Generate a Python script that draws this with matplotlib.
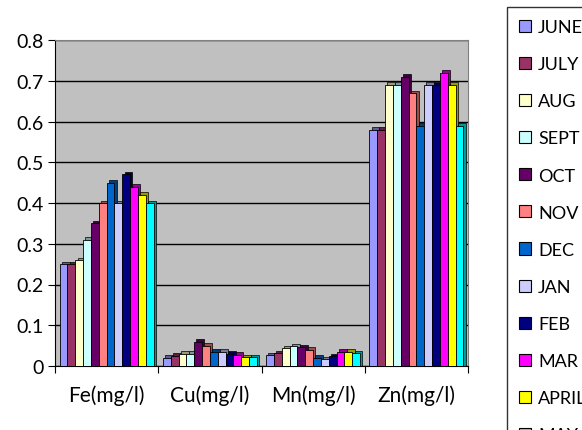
import numpy as np
import matplotlib.pyplot as plt
from matplotlib.patches import Patch

# Elementos medidos por mes
elementos = ["Fe(mg/l)", "Cu(mg/l)", "Mn(mg/l)", "Zn(mg/l)"]
meses = ["JUNE", "JULY", "AUG", "SEPT", "OCT", "NOV", "DEC", "JAN", "FEB", "MAR", "APRIL", "MAY"]
colores = ["#9999FF", "#993366", "#FFFFCC", "#CCFFFF", "#660066", "#FF8080",
           "#0066CC", "#CCCCFF", "#000080", "#FF00FF", "#FFFF00", "#00FFFF"]

fe = [0.25, 0.25, 0.26, 0.31, 0.35, 0.40, 0.45, 0.40, 0.47, 0.44, 0.42, 0.40]
cu = [0.02, 0.025, 0.03, 0.03, 0.06, 0.05, 0.035, 0.035, 0.03, 0.028, 0.022, 0.022]
mn = [0.027, 0.032, 0.043, 0.048, 0.046, 0.04, 0.02, 0.017, 0.024, 0.035, 0.035, 0.032]
zn = [0.58, 0.58, 0.69, 0.69, 0.71, 0.67, 0.59, 0.69, 0.69, 0.72, 0.69, 0.59]

valores = np.array([fe, cu, mn, zn])
yticks = [0, 0.1, 0.2, 0.3, 0.4, 0.5, 0.6, 0.7, 0.8]


def oscurecer(c, f=0.6):
    r, g, b = plt.matplotlib.colors.to_rgb(c)
    return (r * f, g * f, b * f)


plt.rcParams['font.family'] = ['Lato', 'DejaVu Sans']

fig = plt.figure(figsize=(5.82, 4.31), dpi=100)
ax = fig.add_axes([55 / 582, 1 - 367 / 431, 413 / 582, 326 / 431])
ax.set_facecolor("#C0C0C0")

x = np.arange(len(elementos))
n = len(meses)
ancho_grupo = 0.91
w = ancho_grupo / n
dx = 0.022   # profundidad del efecto 3D
dy = 0.006

for i, mes in enumerate(meses):
    pos = x - ancho_grupo / 2 + w * i + w / 2
    # cara lateral/superior mas oscura
    ax.bar(pos + dx, valores[:, i] + dy, width=w, color=oscurecer(colores[i]),
           edgecolor="black", linewidth=0.5, zorder=2)
    ax.bar(pos, valores[:, i], width=w, color=colores[i],
           edgecolor="black", linewidth=0.6, zorder=3)

ax.set_xlim(-0.5, len(elementos) - 0.5)
ax.set_ylim(0, 0.8)
ax.set_yticks(yticks)
ax.set_yticklabels(["0" if v == 0 else f"{v:.1f}" for v in yticks], fontsize=14)
ax.yaxis.grid(True, color="black", linewidth=1)
ax.set_axisbelow(True)

# marcas del eje x entre categorias
ax.set_xticks(np.arange(len(elementos) + 1) - 0.5)
ax.set_xticklabels([])
ax.set_xticks(x, minor=True)
ax.set_xticklabels(elementos, minor=True, fontsize=15)
ax.tick_params(axis="x", which="minor", length=0, pad=13)
ax.tick_params(axis="x", which="major", length=5, color="black")
ax.tick_params(axis="y", length=5, color="black", pad=3)

for s in ["top", "right"]:
    ax.spines[s].set_color("#808080")
ax.spines["left"].set_color("black")
ax.spines["bottom"].set_color("black")

handles = [Patch(facecolor=c, edgecolor="black", linewidth=0.8) for c in colores]
fig.legend(handles, meses, loc="upper left", bbox_to_anchor=(507 / 582, 1 - 8 / 431),
           fontsize=13, frameon=True, fancybox=False, edgecolor="black",
           handlelength=0.65, handleheight=0.65, handletextpad=0.4,
           labelspacing=1.17, borderpad=0.67, borderaxespad=0)

fig.savefig("out.png", dpi=100)
